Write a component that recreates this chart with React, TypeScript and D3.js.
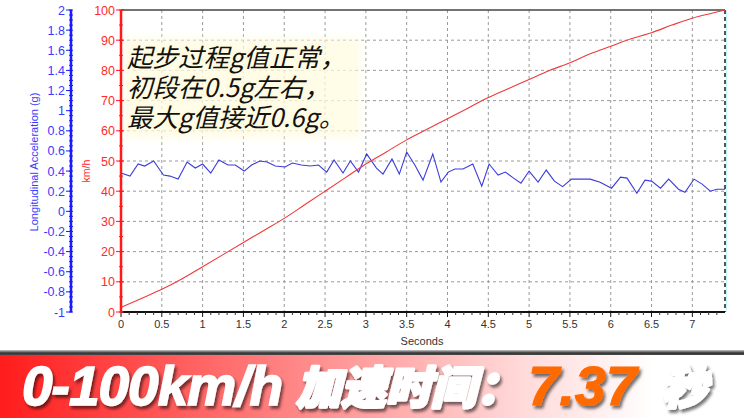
import React from "react";
import * as d3 from "d3";

// ---- data ----
const speedTimes = [0, 0.25, 0.5, 0.75, 1, 1.25, 1.5, 1.75, 2, 2.25, 2.5, 2.75, 3, 3.25, 3.5, 3.75, 4, 4.25, 4.5, 4.75, 5, 5.25, 5.5, 5.75, 6, 6.25, 6.5, 6.75, 7, 7.25, 7.4];
const speedValues = [1.5, 4.5, 7.5, 11, 15, 19, 23, 27, 31, 35.5, 40, 44.5, 49, 53, 57, 60.5, 64, 67.5, 71, 74, 77, 80, 82.5, 85.5, 88, 90.5, 92.5, 95, 97.3, 99, 100];

const accTimes = [0, 0.11, 0.21, 0.29, 0.4, 0.52, 0.6, 0.7, 0.81, 0.91, 1.0, 1.1, 1.2, 1.31, 1.4, 1.51, 1.6, 1.7, 1.79, 1.89, 2.01, 2.1, 2.21, 2.32, 2.42, 2.52, 2.61, 2.72, 2.81, 2.91, 3.01, 3.13, 3.21, 3.32, 3.41, 3.5, 3.6, 3.7, 3.82, 3.92, 4.01, 4.09, 4.19, 4.31, 4.42, 4.51, 4.62, 4.71, 4.81, 4.9, 5.0, 5.11, 5.21, 5.31, 5.41, 5.52, 5.75, 5.87, 6.01, 6.12, 6.2, 6.32, 6.42, 6.5, 6.61, 6.71, 6.83, 6.91, 7.02, 7.12, 7.22, 7.3, 7.4];
const accValues = [0.38, 0.35, 0.47, 0.45, 0.5, 0.36, 0.35, 0.32, 0.49, 0.43, 0.47, 0.38, 0.51, 0.46, 0.46, 0.4, 0.46, 0.5, 0.49, 0.45, 0.44, 0.48, 0.46, 0.45, 0.46, 0.39, 0.51, 0.38, 0.5, 0.39, 0.57, 0.43, 0.37, 0.52, 0.37, 0.59, 0.46, 0.31, 0.57, 0.29, 0.39, 0.42, 0.42, 0.47, 0.25, 0.47, 0.36, 0.39, 0.33, 0.28, 0.4, 0.29, 0.41, 0.3, 0.245, 0.32, 0.32, 0.29, 0.23, 0.34, 0.33, 0.18, 0.31, 0.3, 0.23, 0.32, 0.22, 0.19, 0.32, 0.27, 0.2, 0.22, 0.22];

const xTicks = [0, 0.5, 1, 1.5, 2, 2.5, 3, 3.5, 4, 4.5, 5, 5.5, 6, 6.5, 7];
const speedTicks = [0, 10, 20, 30, 40, 50, 60, 70, 80, 90, 100];
const accTicks = [2, 1.8, 1.6, 1.4, 1.2, 1, 0.8, 0.6, 0.4, 0.2, 0, -0.2, -0.4, -0.6, -0.8, -1];
const noteLines = ["起步过程g值正常，", "初段在0.5g左右，", "最大g值接近0.6g。"];

const W = 744;
const H = 418;
const L = 121, R = 725, T = 10, B = 312;

export default function App() {
  const x = d3.scaleLinear().domain([0, 7.4]).range([L, R]);
  const ys = d3.scaleLinear().domain([0, 100]).range([B, T]);
  const ya = d3.scaleLinear().domain([-1, 2]).range([B, T]);

  const speedLine = d3.line<number>().x((_, i) => x(speedTimes[i])).y((d) => ys(d)).curve(d3.curveMonotoneX);
  const accLine = d3.line<number>().x((_, i) => x(accTimes[i])).y((d) => ya(d));

  const minorX = d3.range(0, 74).map((i) => i / 10).filter((v) => Math.abs(v * 2 - Math.round(v * 2)) > 1e-6);
  const minorAcc = d3.range(-20, 41).map((i) => i * 0.05).filter((v) => v <= 2.0001);
  const minorSpeed = d3.range(0, 21).map((i) => i * 5);

  const axisFont = "'Liberation Sans', Arial, sans-serif";
  const cjk = "'Noto Sans CJK SC', sans-serif";

  return (
    <svg width={W} height={H} style={{ position: "absolute", left: 0, top: 0, background: "#fff" }}>
      <defs>
        <linearGradient id="banner" x1="0" x2="1" y1="0" y2="0">
          <stop offset="0" stopColor="#ff1c1c" />
          <stop offset="0.35" stopColor="#ff7a7a" />
          <stop offset="0.7" stopColor="#ffd9d9" />
          <stop offset="0.88" stopColor="#ffffff" />
          <stop offset="1" stopColor="#ffffff" />
        </linearGradient>
        <linearGradient id="bannerTop" x1="0" x2="0" y1="0" y2="1">
          <stop offset="0" stopColor="#c8c8c8" />
          <stop offset="0.5" stopColor="#333" />
          <stop offset="1" stopColor="#555" />
        </linearGradient>
        <filter id="blur4" x="-20%" y="-20%" width="140%" height="140%">
          <feGaussianBlur stdDeviation="4" />
        </filter>
        <filter id="shadow" x="-10%" y="-20%" width="120%" height="150%">
          <feDropShadow dx="2" dy="3" stdDeviation="1.5" floodColor="#000" floodOpacity="0.55" />
        </filter>
      </defs>

      {/* grid */}
      <g stroke="#9a9a9a" strokeWidth={1} strokeDasharray="3,3">
        {xTicks.filter((t) => t > 0).map((t) => (
          <line key={"gx" + t} x1={x(t)} x2={x(t)} y1={T} y2={B} />
        ))}
        {speedTicks.filter((t) => t > 0 && t < 100).map((t) => (
          <line key={"gy" + t} x1={L} x2={R} y1={ys(t)} y2={ys(t)} />
        ))}
      </g>

      {/* annotation background */}
      <rect x={124} y={38} width={236} height={100} fill="#fffbe0" opacity={0.75} filter="url(#blur4)" />

      {/* frame */}
      <line x1={L} x2={R} y1={T} y2={T} stroke="#444" strokeWidth={1.5} />
      <line x1={R + 1.5} x2={R + 1.5} y1={T} y2={B} stroke="#bff4f8" strokeWidth={1} />
      <line x1={R} x2={R} y1={T} y2={B} stroke="#555" strokeWidth={2} strokeDasharray="4,3" />

      {/* series */}
      <path d={accLine(accValues) || ""} fill="none" stroke="#3c3cdc" strokeWidth={1.1} />
      <path d={speedLine(speedValues) || ""} fill="none" stroke="#ee3a3a" strokeWidth={1.1} />

      {/* x axis */}
      <line x1={L} x2={R} y1={B} y2={B} stroke="#111" strokeWidth={2} />
      {minorX.map((t) => (
        <line key={"mx" + t} x1={x(t)} x2={x(t)} y1={B} y2={B + 3} stroke="#333" />
      ))}
      {xTicks.map((t) => (
        <g key={"xt" + t}>
          <line x1={x(t)} x2={x(t)} y1={B} y2={B + 5} stroke="#111" />
          <text x={x(t)} y={B + 16} textAnchor="middle" fontFamily={axisFont} fontSize={11} fill="#333">{t}</text>
        </g>
      ))}
      <text x={422} y={345} textAnchor="middle" fontFamily={axisFont} fontSize={11} fill="#333">Seconds</text>

      {/* speed axis (red) */}
      <line x1={L} x2={L} y1={T} y2={B} stroke="#ff1a1a" strokeWidth={2.5} />
      {minorSpeed.map((v) => (
        <line key={"ms" + v} x1={L - 2} x2={L + 2} y1={ys(v)} y2={ys(v)} stroke="#ff1a1a" />
      ))}
      {speedTicks.map((v) => (
        <g key={"st" + v}>
          <line x1={L - 5} x2={L + 3} y1={ys(v)} y2={ys(v)} stroke="#ff1a1a" />
          <text x={L - 6} y={ys(v) + 4.5} textAnchor="end" fontFamily={axisFont} fontSize={12.5} fill="#ff2a2a">{v}</text>
        </g>
      ))}
      <text transform={`translate(90, 171) rotate(-90)`} textAnchor="middle" fontFamily={axisFont} fontSize={10.5} fill="#ff2a2a">km/h</text>

      {/* acceleration axis (blue) */}
      <line x1={71} x2={71} y1={T} y2={B} stroke="#1a1aff" strokeWidth={2.5} />
      {minorAcc.map((v) => (
        <line key={"ma" + v.toFixed(2)} x1={69} x2={73} y1={ya(v)} y2={ya(v)} stroke="#1a1aff" />
      ))}
      {accTicks.map((v) => (
        <g key={"at" + v}>
          <line x1={66} x2={72} y1={ya(v)} y2={ya(v)} stroke="#1a1aff" />
          <text x={65} y={ya(v) + 4.5} textAnchor="end" fontFamily={axisFont} fontSize={12.5} fill="#3a3aff">{v}</text>
        </g>
      ))}
      <text transform={`translate(38, 162) rotate(-90)`} textAnchor="middle" fontFamily={axisFont} fontSize={11} fill="#3a3aff">Longitudinal Acceleration (g)</text>

      {/* annotation */}
      {noteLines.map((s, i) => (
        <text key={"n" + i} x={127} y={67 + i * 30} fontFamily={cjk} fontStyle="italic" fontSize={25.5} fill="#111"
          stroke="#fffbe0" strokeWidth={4} paintOrder="stroke" strokeLinejoin="round">{s}</text>
      ))}

      {/* banner */}
      <rect x={0} y={350} width={W} height={6} fill="url(#bannerTop)" />
      <rect x={0} y={355} width={W} height={H - 355} fill="url(#banner)" />
      <g filter="url(#shadow)" fontStyle="italic">
        <text x={22} y={405} fontFamily={axisFont} fontSize={55} fill="#fff" fontWeight={700} letterSpacing={-1}
          stroke="#fff" strokeWidth={1.5}>0-100km/h</text>
        <text x={296} y={404} fontFamily={cjk} fontSize={45} fontWeight={900} fill="#fff" stroke="#fff" strokeWidth={3} strokeLinejoin="round">加速时间：</text>
        <text x={528} y={405} fontFamily={axisFont} fontSize={56} fill="#ff6a00" fontWeight={700} stroke="#ff6a00" strokeWidth={1}>7.37</text>
        <text x={662} y={404} fontFamily={cjk} fontSize={45} fontWeight={900} fill="#fff" stroke="#fff" strokeWidth={3} strokeLinejoin="round">秒</text>
      </g>
    </svg>
  );
}
